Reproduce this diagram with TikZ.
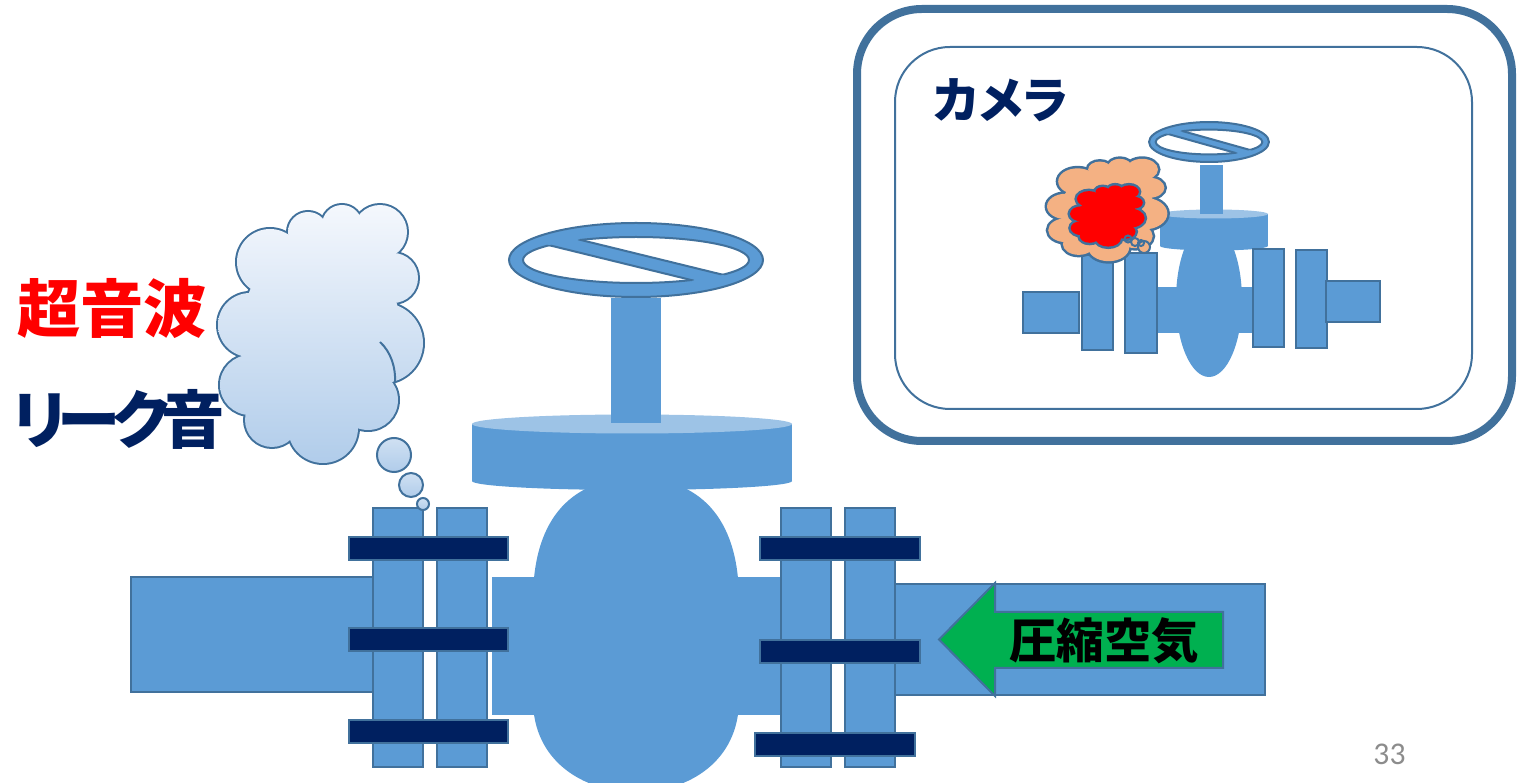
\documentclass[tikz,border=0pt]{standalone}
\usepackage{fontspec}
\usepackage{tikz}
\newfontfamily\jpfont{Noto Sans CJK JP}[RawFeature=+palt]
\newfontfamily\numfont{Carlito}
\definecolor{valveBlue}{HTML}{5B9BD5}
\definecolor{rimBlue}{HTML}{41719C}
\definecolor{capBlue}{HTML}{9DC3E6}
\definecolor{boltNavy}{HTML}{002060}
\definecolor{airGreen}{HTML}{00B050}
\definecolor{puffPeach}{HTML}{F4B183}
\definecolor{cloudTop}{HTML}{F5F8FD}
\definecolor{cloudBottom}{HTML}{B0CCEA}
\definecolor{pageGray}{HTML}{8C8C8C}
\tikzstyle{pipeBox}=[fill = valveBlue, draw = rimBlue, line width = 0.04cm]
\tikzstyle{boltBar}=[fill = boltNavy, draw = rimBlue, line width = 0.04cm]
\tikzstyle{rimLine}=[draw = rimBlue, line width = 0.04cm]
\tikzstyle{jpLabel}=[inner sep = 0pt, font = \jpfont\bfseries]
\def\puffList{-51/-72/33/33, -13/-102/20/20, 21/-109/20/20, 59/-102/27/27,
  72/-56/25/25, 62/9/40/40, 47/66/30/30, 2/94/35/35, -49/86/27/27,
  -71/51/30/30, -71/-9/32/32, 40/-85/25/25, 5/-88/15/15, 0/0/80/95}
\newcommand{\handwheel}{%
  \filldraw[pipeBox] (0,0) ellipse (127 and 37);
  \begin{scope}
    \clip (-130,{-0.245*130-6.5}) -- (130,{0.245*130-6.5}) -- (130,-50) -- (-130,-50) -- cycle;
    \filldraw[rimLine, fill = white] (0,0) ellipse (113 and 23);
  \end{scope}
  \begin{scope}
    \clip (-130,{-0.245*130+6.5}) -- (130,{0.245*130+6.5}) -- (130,50) -- (-130,50) -- cycle;
    \filldraw[rimLine, fill = white] (0,0) ellipse (113 and 23);
  \end{scope}
  \begin{scope}
    \clip (0,0) ellipse (113 and 23);
    \draw[rimLine] (-130,{-0.245*130-6.5}) -- (130,{0.245*130-6.5});
    \draw[rimLine] (-130,{-0.245*130+6.5}) -- (130,{0.245*130+6.5});
  \end{scope}}

\begin{document}
\begin{tikzpicture}[x = 0.02cm, y = -0.02cm]
\useasboundingbox (0,0) rectangle (1529,783);

\draw[pipeBox] (131,577) rectangle (374,692);
\fill[valveBlue] (492,577) rectangle (780,715);
\fill[valveBlue] (533,600) .. controls (533,515) and (575,478) .. (636,478)
  .. controls (697,478) and (739,515) .. (739,600) -- (739,700)
  .. controls (739,760) and (690,792) .. (636,792)
  .. controls (582,792) and (533,760) .. (533,700) -- cycle;
\fill[valveBlue] (472,424) rectangle (792,481);
\fill[valveBlue] (632,481) ellipse (160 and 9);
\fill[capBlue] (632,424) ellipse (160 and 9.5);
\fill[valveBlue] (611,298) rectangle (661,423);
\begin{scope}[shift = {(636,260)}]
\handwheel
\end{scope}
\foreach \x in {373,437,781,845}
  \draw[pipeBox] (\x,508) rectangle ++(50,259);
\draw[pipeBox] (895,584) rectangle (1265,695);
\foreach \y in {537,628,720}
  \draw[boltBar] (349,\y) rectangle ++(159,23);
\draw[boltBar] (760,537) rectangle ++(160,23);
\draw[boltBar] (760,640) rectangle ++(160,23);
\draw[boltBar] (755,733) rectangle ++(160,23);

\draw[rimLine, fill = airGreen] (1223,612) -- (995,612) -- (995,583) -- (939,639.5)
  -- (995,696) -- (995,668) -- (1223,668) -- cycle;
\node[jpLabel, font = \jpfont\bfseries\fontsize{27}{30}\selectfont] (air) at (1104,641) {圧縮空気};

\begin{scope}[shift = {(321,334)}]
\foreach \px/\py/\rx/\ry in \puffList
  \draw[rimBlue, line width = 0.08cm] (\px,\py) ellipse [x radius = \rx, y radius = \ry];
\foreach \px/\py/\rx/\ry in \puffList {
  \begin{scope}
    \clip (\px,\py) ellipse [x radius = \rx, y radius = \ry];
    \shade[top color = cloudTop, bottom color = cloudBottom] (-105,-132) rectangle (105,132);
  \end{scope}}
\draw[rimLine] (59,8) .. controls (70,18) and (75,34) .. (74,49);
\end{scope}
\foreach \cx/\cy/\r in {394/455/17, 411/485/12, 423/504/6}
  \shadedraw[rimLine, top color = cloudBottom!60!white, bottom color = cloudBottom] (\cx,\cy) circle [radius = \r];

\node[jpLabel, text = red, font = \jpfont\bfseries\fontsize{36}{40}\selectfont] (ultra) at (112,308) {超音波};
\node[jpLabel, text = boltNavy, font = \jpfont\bfseries\fontsize{36}{40}\selectfont\addfontfeature{LetterSpace=-12}] (leak) at (118.5,419) {リーク音};

\draw[rimBlue, line width = 0.16cm, rounded corners = 1.3cm] (857,9) rectangle (1512,441);
\draw[rimLine, rounded corners = 1.1cm] (895,47) rectangle (1472,409);
\node[jpLabel, text = boltNavy, font = \jpfont\bfseries\fontsize{28}{32}\selectfont] (camera) at (1001,100) {カメラ};

\draw[pipeBox] (1023,292) rectangle (1079,333);
\fill[valveBlue] (1157,287) rectangle (1253,333);
\fill[valveBlue] (1209,300) ellipse (33 and 77);
\fill[valveBlue] (1160,214) rectangle (1268,246);
\fill[valveBlue] (1214,246) ellipse (54 and 4.5);
\fill[capBlue] (1214,214) ellipse (54 and 4.5);
\fill[valveBlue] (1200,165) rectangle (1223,214);
\begin{scope}[shift = {(1209,142)}, xscale = 0.472, yscale = 0.54]
\handwheel
\end{scope}
\draw[pipeBox] (1082,255) rectangle (1113,350);
\draw[pipeBox] (1125,253) rectangle (1157,353);
\draw[pipeBox] (1253,249) rectangle (1284,347);
\draw[pipeBox] (1296,250) rectangle (1327,348);
\draw[pipeBox] (1326,281) rectangle (1380,322);

\begin{scope}[shift = {(1107.5,210)}, xscale = 0.587, yscale = 0.397]
\foreach \px/\py/\rx/\ry in \puffList
  \draw[rimBlue, line width = 0.1cm] (\px,\py) ellipse [x radius = \rx, y radius = \ry];
\foreach \px/\py/\rx/\ry in \puffList
  \fill[puffPeach] (\px,\py) ellipse [x radius = \rx, y radius = \ry];
\end{scope}
\filldraw[rimLine, fill = puffPeach] (1144,247) circle [radius = 6];
\begin{scope}[shift = {(1107.5,216)}, xscale = 0.364, yscale = 0.237]
\foreach \px/\py/\rx/\ry in \puffList
  \draw[rimBlue, line width = 0.1cm] (\px,\py) ellipse [x radius = \rx, y radius = \ry];
\foreach \px/\py/\rx/\ry in \puffList
  \fill[red] (\px,\py) ellipse [x radius = \rx, y radius = \ry];
\end{scope}
\draw[rimLine] (1128,239) circle [radius = 3.5] (1135,242) circle [radius = 4] (1141,243) circle [radius = 3];

\node[inner sep = 0pt, text = pageGray, font = \numfont\fontsize{18}{20}\selectfont] (page) at (1389.5,754) {33};
\end{tikzpicture}
\end{document}
